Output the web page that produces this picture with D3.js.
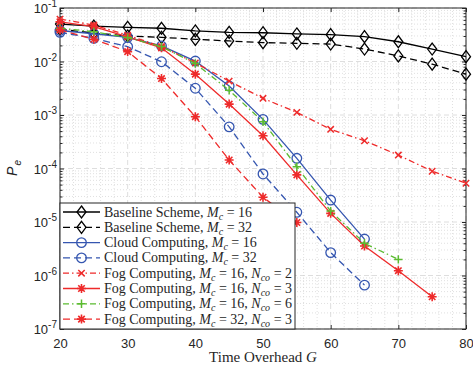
<!DOCTYPE html>
<html>
<head>
<meta charset="utf-8">
<script src="https://cdn.jsdelivr.net/npm/d3@7/dist/d3.min.js"></script>
<style>
  body { margin: 0; background: #fff; }
  svg text { fill: #262626; }
</style>
</head>
<body>
<div id="chart"></div>
<script>
// time overhead G
var gValues = [20, 25, 30, 35, 40, 45, 50, 55, 60, 65, 70, 75, 80];

var baseline16 = [0.050, 0.046, 0.0436, 0.0418, 0.0372, 0.0351, 0.0345, 0.0327, 0.0317, 0.0291, 0.0234, 0.0171, 0.0123];
var baseline32 = [0.040, 0.034, 0.030, 0.0283, 0.026, 0.0242, 0.0225, 0.0219, 0.0212, 0.0171, 0.0127, 0.0089, 0.0058];
var cloud16 = [0.038, 0.033, 0.0283, 0.0195, 0.0102, 0.00348, 0.00083, 0.000155, 2.57e-5, 4.8e-6];
var cloud32 = [0.0351, 0.0271, 0.0189, 0.0099, 0.00316, 0.00060, 7.9e-5, 1.52e-5, 2.68e-6, 6.6e-7];
var fog16co2 = [0.062, 0.048, 0.031, 0.019, 0.0094, 0.0043, 0.00205, 0.00112, 0.00054, 0.00033, 0.000178, 8.9e-5, 5.3e-5];
var fog16co3 = [0.055, 0.045, 0.029, 0.018, 0.0058, 0.0016, 0.00041, 7.6e-5, 1.45e-5, 3.55e-6, 1.23e-6, 4.0e-7];
var fog16co6 = [0.042, 0.036, 0.028, 0.019, 0.0092, 0.0029, 0.00075, 0.000108, 1.6e-5, 4.0e-6, 2.0e-6];
var fog32co3 = [0.039, 0.026, 0.0153, 0.0048, 0.00093, 0.000144, 2.9e-5, 9.8e-6];

var xTicks = [20, 30, 40, 50, 60, 70, 80];
var yExponents = [-1, -2, -3, -4, -5, -6, -7];

var series = [
  { name: "Baseline Scheme", mc: "16", nco: null, values: baseline16, color: "#000000", dash: null, marker: "diamond" },
  { name: "Baseline Scheme", mc: "32", nco: null, values: baseline32, color: "#000000", dash: "7,4", marker: "diamond" },
  { name: "Cloud Computing", mc: "16", nco: null, values: cloud16, color: "#3556b0", dash: null, marker: "circle" },
  { name: "Cloud Computing", mc: "32", nco: null, values: cloud32, color: "#3556b0", dash: "7,4", marker: "circle" },
  { name: "Fog Computing", mc: "16", nco: "2", values: fog16co2, color: "#ee2a2a", dash: "6,3,1.5,3", marker: "x" },
  { name: "Fog Computing", mc: "16", nco: "3", values: fog16co3, color: "#ee2a2a", dash: null, marker: "star" },
  { name: "Fog Computing", mc: "16", nco: "6", values: fog16co6, color: "#5bbb30", dash: "6,3,1.5,3", marker: "plus" },
  { name: "Fog Computing", mc: "32", nco: "3", values: fog32co3, color: "#ee2a2a", dash: "7,4", marker: "star" }
];

var W = 473, H = 371;
var pL = 60, pR = 466, pT = 8, pB = 329;

var svg = d3.select("#chart").append("svg")
  .attr("width", W).attr("height", H)
  .style("font-family", "'Liberation Sans', Arial, sans-serif");

var x = d3.scaleLinear().domain([20, 80]).range([pL, pR]);
var y = d3.scaleLog().domain([1e-7, 1e-1]).range([pB, pT]);

// grid
var grid = svg.append("g");
var minorY = [];
for (var e = -7; e < -1; e++) {
  for (var m = 2; m <= 9; m++) minorY.push(m * Math.pow(10, e));
}
var minorX = d3.range(22, 80, 2).filter(function(v) { return v % 10 !== 0; });

grid.selectAll(".minx").data(minorX).enter().append("line")
  .attr("x1", function(d) { return x(d); }).attr("x2", function(d) { return x(d); })
  .attr("y1", pT).attr("y2", pB)
  .attr("stroke", "#d8d8d8").attr("stroke-width", 0.8).attr("stroke-dasharray", "1,2");
grid.selectAll(".miny").data(minorY).enter().append("line")
  .attr("x1", pL).attr("x2", pR)
  .attr("y1", function(d) { return y(d); }).attr("y2", function(d) { return y(d); })
  .attr("stroke", "#d8d8d8").attr("stroke-width", 0.8).attr("stroke-dasharray", "1,2");
grid.selectAll(".majx").data(xTicks).enter().append("line")
  .attr("x1", function(d) { return x(d); }).attr("x2", function(d) { return x(d); })
  .attr("y1", pT).attr("y2", pB)
  .attr("stroke", "#d6d6d6").attr("stroke-width", 0.8).attr("stroke-dasharray", "5,3");
grid.selectAll(".majy").data(yExponents).enter().append("line")
  .attr("x1", pL).attr("x2", pR)
  .attr("y1", function(d) { return y(Math.pow(10, d)); }).attr("y2", function(d) { return y(Math.pow(10, d)); })
  .attr("stroke", "#d6d6d6").attr("stroke-width", 0.8).attr("stroke-dasharray", "5,3");

// axes with inward ticks
var axisColor = "#262626";
function styleAxis(g) {
  g.select(".domain").remove();
  g.selectAll("line").attr("stroke", axisColor);
  g.selectAll("text").attr("fill", axisColor);
}
svg.append("g").attr("transform", "translate(0," + pB + ")")
  .call(d3.axisBottom(x).tickValues(xTicks).tickSize(-4).tickPadding(10).tickFormat(d3.format("d")))
  .call(styleAxis)
  .selectAll("text").style("font-size", "13px");
svg.append("g").attr("transform", "translate(0," + pT + ")")
  .call(d3.axisTop(x).tickValues(xTicks).tickSize(-4).tickFormat(""))
  .call(styleAxis);

var majorY = yExponents.map(function(d) { return Math.pow(10, d); });
svg.append("g").attr("transform", "translate(" + pL + ",0)")
  .call(d3.axisLeft(y).tickValues(majorY).tickSize(-4).tickFormat(""))
  .call(styleAxis);
svg.append("g").attr("transform", "translate(" + pL + ",0)")
  .call(d3.axisLeft(y).tickValues(minorY).tickSize(-2.5).tickFormat(""))
  .call(styleAxis);
svg.append("g").attr("transform", "translate(" + pR + ",0)")
  .call(d3.axisRight(y).tickValues(majorY).tickSize(-4).tickFormat(""))
  .call(styleAxis);
svg.append("g").attr("transform", "translate(" + pR + ",0)")
  .call(d3.axisRight(y).tickValues(minorY).tickSize(-2.5).tickFormat(""))
  .call(styleAxis);

// y tick labels 10^n
yExponents.forEach(function(ex) {
  var t = svg.append("text")
    .attr("x", pL - 3).attr("y", y(Math.pow(10, ex)) + 5)
    .attr("text-anchor", "end").style("font-size", "13px");
  t.append("tspan").text("10");
  t.append("tspan").attr("dy", -6).style("font-size", "10px").text(String(ex));
});

svg.append("rect").attr("x", pL).attr("y", pT)
  .attr("width", pR - pL).attr("height", pB - pT)
  .attr("fill", "none").attr("stroke", axisColor).attr("stroke-width", 1);

// axis labels
svg.append("text").attr("x", (pL + pR) / 2).attr("y", 362)
  .attr("text-anchor", "middle")
  .style("font-family", "'Liberation Serif', 'Times New Roman', serif").style("font-size", "15px")
  .html("Time Overhead <tspan font-style='italic'>G</tspan>");

var ylab = svg.append("text").attr("transform", "translate(17,168) rotate(-90)")
  .attr("text-anchor", "middle").style("font-size", "14px");
ylab.append("tspan").style("font-style", "italic").text("P");
ylab.append("tspan").attr("dy", 4).attr("dx", 1).style("font-size", "10px").style("font-style", "italic").text("e");

// markers
function drawMarker(g, type, cx, cy, color) {
  if (type === "diamond") {
    g.append("path").attr("d", "M" + cx + "," + (cy - 6) + "L" + (cx + 4.5) + "," + cy + "L" + cx + "," + (cy + 6) + "L" + (cx - 4.5) + "," + cy + "Z")
      .attr("fill", "none").attr("stroke", color).attr("stroke-width", 1.3);
  } else if (type === "circle") {
    g.append("circle").attr("cx", cx).attr("cy", cy).attr("r", 4.8)
      .attr("fill", "none").attr("stroke", color).attr("stroke-width", 1.3);
  } else if (type === "x") {
    var s = 3.2;
    g.append("path").attr("d", "M" + (cx - s) + "," + (cy - s) + "L" + (cx + s) + "," + (cy + s) + "M" + (cx - s) + "," + (cy + s) + "L" + (cx + s) + "," + (cy - s))
      .attr("stroke", color).attr("stroke-width", 1.5);
  } else if (type === "plus") {
    var p = 4.2;
    g.append("path").attr("d", "M" + (cx - p) + "," + cy + "L" + (cx + p) + "," + cy + "M" + cx + "," + (cy - p) + "L" + cx + "," + (cy + p))
      .attr("stroke", color).attr("stroke-width", 1.5);
  } else if (type === "star") {
    var r = 4.5, d = r * 0.72;
    g.append("path").attr("d", "M" + (cx - r) + "," + cy + "L" + (cx + r) + "," + cy + "M" + cx + "," + (cy - r) + "L" + cx + "," + (cy + r) +
      "M" + (cx - d) + "," + (cy - d) + "L" + (cx + d) + "," + (cy + d) + "M" + (cx - d) + "," + (cy + d) + "L" + (cx + d) + "," + (cy - d))
      .attr("stroke", color).attr("stroke-width", 1.6);
  }
}

var line = d3.line()
  .x(function(d, i) { return x(gValues[i]); })
  .y(function(d) { return y(d); });

var plot = svg.append("g");
series.forEach(function(s) {
  var g = plot.append("g");
  g.append("path").datum(s.values).attr("d", line)
    .attr("fill", "none").attr("stroke", s.color).attr("stroke-width", 1.3)
    .attr("stroke-dasharray", s.dash);
  s.values.forEach(function(v, i) { drawMarker(g, s.marker, x(gValues[i]), y(v), s.color); });
});

// legend
var lg = svg.append("g");
var lx = pL, ly = 203, lw = 235, lh = 126, rowH = 15.3;
lg.append("rect").attr("x", lx).attr("y", ly).attr("width", lw).attr("height", lh)
  .attr("fill", "#fff").attr("stroke", axisColor).attr("stroke-width", 1);
series.forEach(function(s, i) {
  var cy = ly + 9 + i * rowH;
  lg.append("line").attr("x1", lx + 3).attr("x2", lx + 40).attr("y1", cy).attr("y2", cy)
    .attr("stroke", s.color).attr("stroke-width", 1.3).attr("stroke-dasharray", s.dash);
  drawMarker(lg, s.marker, lx + 21.5, cy, s.color);
  var t = lg.append("text").attr("x", lx + 44).attr("y", cy + 4.5)
    .style("font-family", "'Liberation Serif', 'Times New Roman', serif").style("font-size", "14px");
  t.append("tspan").text(s.name + ", ");
  t.append("tspan").style("font-style", "italic").text("M");
  t.append("tspan").attr("dy", 3).style("font-size", "10px").style("font-style", "italic").text("c");
  t.append("tspan").attr("dy", -3).text(" = " + s.mc);
  if (s.nco) {
    t.append("tspan").text(", ");
    t.append("tspan").style("font-style", "italic").text("N");
    t.append("tspan").attr("dy", 3).style("font-size", "10px").style("font-style", "italic").text("co");
    t.append("tspan").attr("dy", -3).text(" = " + s.nco);
  }
});
</script>
</body>
</html>
